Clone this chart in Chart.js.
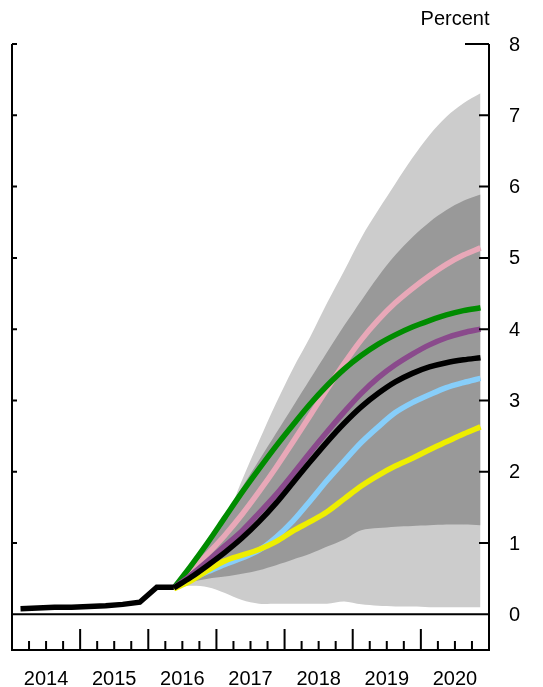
<!DOCTYPE html>
<html>
<head>
<meta charset="utf-8">
<script src="https://cdn.jsdelivr.net/npm/chart.js@4.4.0/dist/chart.umd.min.js"></script>
<style>
  html, body { margin: 0; padding: 0; background: #fff; }
  canvas { display: block; }
</style>
</head>
<body>
<canvas id="fanChart" width="543" height="687"></canvas>
<script>
// Historical path (quarterly, plotted at mid-quarter)
const histX = [2014.125, 2014.375, 2014.625, 2014.875, 2015.125, 2015.375, 2015.625, 2015.875, 2016.125, 2016.375];
const histY = [0.08, 0.09, 0.10, 0.10, 0.11, 0.12, 0.14, 0.17, 0.38, 0.38];

// Projection quarters 2016Q2 - 2020Q4
const fcX = [2016.375, 2016.625, 2016.875, 2017.125, 2017.375, 2017.625, 2017.875, 2018.125, 2018.375,
  2018.625, 2018.875, 2019.125, 2019.375, 2019.625, 2019.875, 2020.125, 2020.375, 2020.625, 2020.875];

// Confidence bands
const outerUpper = [0.40, 0.62, 0.92, 1.30, 1.88, 2.43, 2.96, 3.45, 3.89, 4.37, 4.82, 5.28, 5.67, 6.04, 6.40, 6.72, 6.98, 7.17, 7.31];
const innerUpper = [0.40, 0.70, 1.04, 1.40, 1.78, 2.16, 2.54, 2.92, 3.30, 3.68, 4.05, 4.40, 4.74, 5.04, 5.29, 5.50, 5.67, 5.80, 5.89];
const innerLower = [0.37, 0.45, 0.50, 0.53, 0.57, 0.62, 0.69, 0.77, 0.85, 0.95, 1.05, 1.18, 1.21, 1.23, 1.24, 1.25, 1.26, 1.26, 1.25];
const outerLower = [0.37, 0.40, 0.38, 0.30, 0.20, 0.15, 0.15, 0.15, 0.15, 0.15, 0.18, 0.14, 0.12, 0.11, 0.11, 0.10, 0.10, 0.10, 0.10];

// Scenario paths
const pinkPath   = [0.37, 0.60, 0.85, 1.11, 1.40, 1.72, 2.06, 2.42, 2.79, 3.16, 3.52, 3.85, 4.13, 4.37, 4.57, 4.75, 4.91, 5.04, 5.14];
const greenPath  = [0.37, 0.68, 1.01, 1.36, 1.71, 2.04, 2.36, 2.66, 2.95, 3.21, 3.44, 3.63, 3.79, 3.92, 4.03, 4.12, 4.20, 4.26, 4.30];
const purplePath = [0.37, 0.55, 0.75, 0.96, 1.17, 1.42, 1.68, 1.97, 2.27, 2.56, 2.84, 3.10, 3.32, 3.50, 3.65, 3.78, 3.88, 3.95, 4.00];
const blackPath  = [0.37, 0.52, 0.69, 0.87, 1.07, 1.30, 1.56, 1.85, 2.14, 2.42, 2.68, 2.91, 3.10, 3.26, 3.38, 3.47, 3.53, 3.57, 3.60];
const bluePath   = [0.37, 0.50, 0.60, 0.70, 0.79, 0.90, 1.08, 1.31, 1.59, 1.88, 2.15, 2.41, 2.63, 2.83, 2.97, 3.08, 3.18, 3.25, 3.31];
const yellowPath = [0.36, 0.47, 0.62, 0.75, 0.83, 0.91, 1.02, 1.17, 1.30, 1.44, 1.62, 1.80, 1.95, 2.08, 2.19, 2.31, 2.42, 2.53, 2.63];

const yearLabels = ["2014", "2015", "2016", "2017", "2018", "2019", "2020"];
const yTicks = [1, 2, 3, 4, 5, 6, 7, 8];
const yLabels = ["0", "1", "2", "3", "4", "5", "6", "7", "8"];

const pts = (xs, ys) => xs.map((x, i) => ({ x: x, y: ys[i] }));

const FONT = '20px "Liberation Sans", Arial, sans-serif';

// frame, inward ticks and labels drawn off the chart's own scales
const axesPlugin = {
  id: "fedAxes",
  afterDraw(chart) {
    const ctx = chart.ctx;
    const xs = chart.scales.x, ys = chart.scales.y;
    const L = xs.getPixelForValue(2014), R = xs.getPixelForValue(2021);
    const B = ys.getPixelForValue(-0.5), T = ys.getPixelForValue(8);
    const Z = ys.getPixelForValue(0);
    ctx.save();
    ctx.strokeStyle = "#000";
    ctx.lineWidth = 2;
    ctx.beginPath();
    ctx.moveTo(L, T); ctx.lineTo(L, B); ctx.lineTo(R, B); ctx.lineTo(R, T);
    ctx.moveTo(L, Z); ctx.lineTo(R, Z);
    yTicks.forEach(v => {
      const py = ys.getPixelForValue(v);
      ctx.moveTo(L, py); ctx.lineTo(L + 5, py);
      ctx.moveTo(R, py); ctx.lineTo(R - (v === 8 ? 24 : 10), py);
    });
    for (let yr = 2014; yr < 2021; yr++) {
      for (let q = 0; q < 4; q++) {
        if (yr === 2014 && q === 0) continue;
        const px = xs.getPixelForValue(yr + q / 4);
        ctx.moveTo(px, B); ctx.lineTo(px, B - (q === 0 ? 21 : 9));
      }
    }
    ctx.stroke();

    ctx.fillStyle = "#000";
    ctx.font = FONT;
    ctx.textAlign = "center";
    ctx.textBaseline = "alphabetic";
    yearLabels.forEach((lab, i) => {
      ctx.fillText(lab, xs.getPixelForValue(2014 + i + 0.5), 685);
    });
    ctx.textAlign = "left";
    ctx.textBaseline = "middle";
    yLabels.forEach((lab, i) => {
      ctx.fillText(lab, R + 20, ys.getPixelForValue(i) + 1);
    });
    ctx.textAlign = "center";
    ctx.textBaseline = "alphabetic";
    ctx.fillText("Percent", R - 34, 25);
    ctx.restore();
  }
};

const lineDs = (label, ys, color, order) => ({
  label: label,
  data: pts(fcX, ys),
  borderColor: color,
  borderWidth: 5.5,
  pointRadius: 0,
  fill: false,
  cubicInterpolationMode: "monotone",
  order: order
});

new Chart(document.getElementById("fanChart"), {
  type: "line",
  data: {
    datasets: [
      { label: "outer upper", data: pts(fcX, outerUpper), borderWidth: 0, pointRadius: 0,
        backgroundColor: "#cccccc", fill: "+1", tension: 0.35, order: 20 },
      { label: "outer lower", data: pts(fcX, outerLower), borderWidth: 0, pointRadius: 0,
        fill: false, tension: 0.3, order: 19 },
      { label: "inner upper", data: pts(fcX, innerUpper), borderWidth: 0, pointRadius: 0,
        backgroundColor: "#999999", fill: "+1", tension: 0.35, order: 18 },
      { label: "inner lower", data: pts(fcX, innerLower), borderWidth: 0, pointRadius: 0,
        fill: false, tension: 0.3, order: 17 },
      lineDs("pink", pinkPath, "#e8a8b8", 9),
      lineDs("green", greenPath, "#008c00", 8),
      lineDs("purple", purplePath, "#8a4a8c", 7),
      lineDs("blue", bluePath, "#87cefa", 6),
      lineDs("yellow", yellowPath, "#eeee00", 5),
      lineDs("baseline", blackPath, "#000000", 4),
      { label: "history", data: pts(histX, histY), borderColor: "#000", borderWidth: 5.5,
        pointRadius: 0, fill: false, tension: 0, order: 3 }
    ]
  },
  options: {
    responsive: false,
    animation: false,
    devicePixelRatio: 1,
    layout: { padding: { left: 12, right: 54, top: 44, bottom: 37 } },
    plugins: { legend: { display: false }, tooltip: { enabled: false } },
    scales: {
      x: { type: "linear", min: 2014, max: 2021, display: false },
      y: { min: -0.5, max: 8, display: false }
    }
  },
  plugins: [axesPlugin]
});
</script>
</body>
</html>
